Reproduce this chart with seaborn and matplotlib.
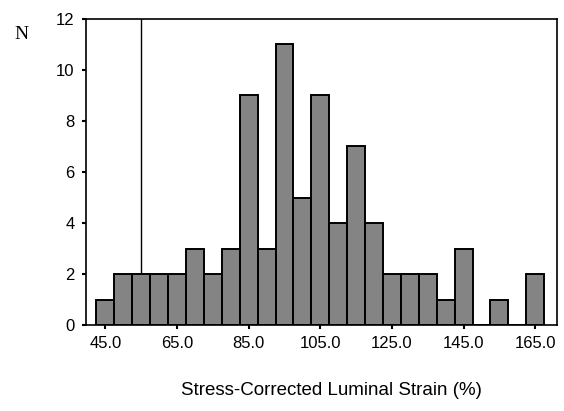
import numpy as np
import pandas as pd
import matplotlib
matplotlib.use("Agg")
import matplotlib.pyplot as plt
import seaborn as sns

# bin centres (%) and counts
bin_centres = [45, 50, 55, 60, 65, 70, 75, 80, 85, 90, 95, 100, 105,
               110, 115, 120, 125, 130, 135, 140, 145, 150, 155, 160, 165]
counts = [1, 2, 2, 2, 2, 3, 2, 3, 9, 3, 11, 5, 9,
          4, 7, 4, 2, 2, 2, 1, 3, 0, 1, 0, 2]
x_ticks = [45.0, 65.0, 85.0, 105.0, 125.0, 145.0, 165.0]
y_ticks = [0, 2, 4, 6, 8, 10, 12]
marker_line = 55.0

df = pd.DataFrame({"strain": bin_centres, "n": counts})

sns.set_style("ticks")
plt.rcParams["font.family"] = ["Liberation Sans", "DejaVu Sans"]
plt.rcParams["text.color"] = "black"
plt.rcParams["xtick.color"] = "black"
plt.rcParams["ytick.color"] = "black"
plt.rcParams["axes.edgecolor"] = "black"

fig = plt.figure(figsize=(5.64, 4.11), dpi=100)
ax = fig.add_axes([0.152, 0.209, 0.835, 0.745])

sns.histplot(data=df, x="strain", weights="n", binwidth=5, binrange=(42.5, 167.5),
             color="#848484", alpha=1, edgecolor="black", linewidth=1.4, ax=ax)
ax.axvline(marker_line, color="black", linewidth=1.0, zorder=0.5)

ax.set_xlim(39.5, 171)
ax.set_ylim(0, 12)
ax.set_xticks(x_ticks)
ax.set_xticklabels([f"{t:.1f}" for t in x_ticks], fontsize=12, color="black")
ax.set_yticks(y_ticks)
ax.set_yticklabels([str(t) for t in y_ticks], fontsize=12, color="black")
ax.tick_params(length=3, width=1.5, pad=5, colors="black")
for s in ax.spines.values():
    s.set_linewidth(1.2)
    s.set_color("black")
    s.set_visible(True)

ax.set_xlabel("")
ax.set_ylabel("")
fig.text(0.025, 0.905, "N", fontsize=14, family="Liberation Serif", color="black")
fig.text(0.587, 0.049, "Stress-Corrected Luminal Strain (%)", fontsize=13.5,
         ha="center", va="center", color="black")

fig.savefig("out.png", dpi=100)
